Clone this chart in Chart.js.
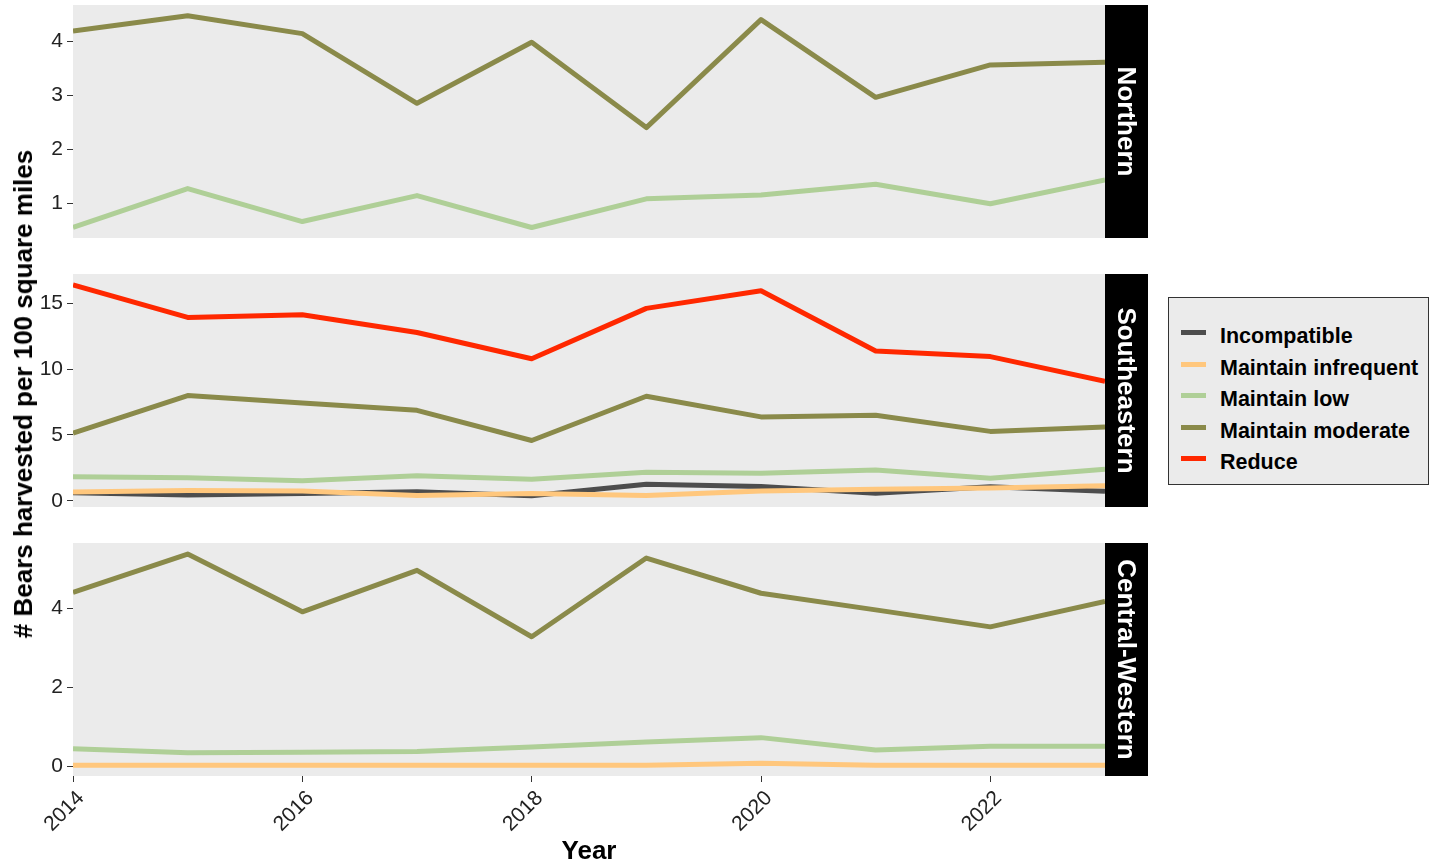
<!DOCTYPE html>
<html>
<head>
<meta charset="utf-8">
<title>Bear harvest by management objective</title>
<script src="https://cdn.jsdelivr.net/npm/chart.js@4.4.1/dist/chart.umd.min.js"></script>
<style>
  html, body { margin: 0; padding: 0; background: #fff; width: 1437px; height: 867px; overflow: hidden;
    font-family: "Liberation Sans", Arial, sans-serif; }
  .panel { position: absolute; left: 0; }
  #ytitle { position: absolute; left: 23px; top: 394px; transform: translate(-50%, -50%) rotate(-90deg);
    font-weight: bold; font-size: 26px; white-space: nowrap; color: #000; line-height: 30px; }
  #legend { position: absolute; left: 1168px; top: 297px; width: 261px; height: 188px; background: #EBEBEB;
    border: 1px solid #333; box-sizing: border-box; }
  .key { position: absolute; left: 12px; width: 25px; height: 5px; }
  .lab { position: absolute; left: 51px; height: 30px; line-height: 30px; font-weight: bold; font-size: 21.5px;
    color: #000; white-space: nowrap; }
</style>
</head>
<body>
<canvas id="c0" class="panel" width="1150" height="250" style="top:0px"></canvas>
<canvas id="c1" class="panel" width="1150" height="260" style="top:262px"></canvas>
<canvas id="c2" class="panel" width="1150" height="337" style="top:530px"></canvas>
<div id="ytitle"># Bears harvested per 100 square miles</div>
<div id="legend"></div>
<script>
// ---- data ----
const years = [2014, 2015, 2016, 2017, 2018, 2019, 2020, 2021, 2022, 2023];
const yearTicks = [2014, 2016, 2018, 2020, 2022];

const seriesNames = ['Incompatible', 'Maintain infrequent', 'Maintain low', 'Maintain moderate', 'Reduce'];
const seriesColors = ['#4D4D4D', '#FFC77D', '#AFCF97', '#8A8A4A', '#FF2800'];

const regionNames = ['Northern', 'Southeastern', 'Central-Western'];

// Northern
const northernLow      = [0.55, 1.27, 0.66, 1.14, 0.55, 1.08, 1.15, 1.35, 0.99, 1.43];
const northernModerate = [4.19, 4.47, 4.14, 2.85, 3.98, 2.40, 4.40, 2.96, 3.56, 3.61];
const northernTicks = [1, 2, 3, 4];

// Southeastern
const southeasternIncompatible = [0.62, 0.45, 0.55, 0.68, 0.38, 1.25, 1.08, 0.57, 1.07, 0.72];
const southeasternInfrequent   = [0.66, 0.79, 0.75, 0.40, 0.56, 0.40, 0.75, 0.87, 0.98, 1.14];
const southeasternLow          = [1.83, 1.76, 1.53, 1.91, 1.63, 2.17, 2.09, 2.34, 1.71, 2.40];
const southeasternModerate     = [5.14, 7.99, 7.43, 6.87, 4.58, 7.94, 6.37, 6.49, 5.27, 5.60];
const southeasternReduce       = [16.39, 13.92, 14.12, 12.78, 10.79, 14.61, 15.95, 11.37, 10.95, 9.08];
const southeasternTicks = [0, 5, 10, 15];

// Central-Western
const centralWesternInfrequent = [0.03, 0.03, 0.03, 0.03, 0.03, 0.03, 0.08, 0.03, 0.03, 0.03];
const centralWesternLow        = [0.45, 0.35, 0.36, 0.38, 0.49, 0.62, 0.73, 0.42, 0.51, 0.51];
const centralWesternModerate   = [4.40, 5.37, 3.91, 4.96, 3.28, 5.27, 4.38, 3.96, 3.53, 4.17];
const centralWesternTicks = [0, 2, 4];

// ---- panels ----
const panels = [
  { canvas: 'c0', label: regionNames[0], ticks: northernTicks, min: 0.355, max: 4.67, pad: { top: 5, bottom: 12 },
    series: { 'Maintain low': northernLow, 'Maintain moderate': northernModerate } },
  { canvas: 'c1', label: regionNames[1], ticks: southeasternTicks, min: -0.47, max: 17.22, pad: { top: 12, bottom: 15 },
    series: { 'Incompatible': southeasternIncompatible, 'Maintain infrequent': southeasternInfrequent,
              'Maintain low': southeasternLow, 'Maintain moderate': southeasternModerate, 'Reduce': southeasternReduce } },
  { canvas: 'c2', label: regionNames[2], ticks: centralWesternTicks, min: -0.24, max: 5.65, pad: { top: 13, bottom: 0 },
    series: { 'Maintain infrequent': centralWesternInfrequent, 'Maintain low': centralWesternLow,
              'Maintain moderate': centralWesternModerate }, showX: true }
];

const STRIP_W = 43;
const FONT = '"Liberation Sans", Arial, sans-serif';

// grey panel background and the black facet strip on the right
const facetPlugin = {
  id: 'facet',
  beforeDraw(chart, args, opts) {
    const { ctx, chartArea: a } = chart;
    ctx.save();
    ctx.fillStyle = '#EBEBEB';
    ctx.fillRect(a.left, a.top, a.right - a.left, a.bottom - a.top);
    ctx.fillStyle = '#000';
    ctx.fillRect(a.right, a.top, STRIP_W, a.bottom - a.top);
    ctx.translate(a.right + STRIP_W / 2, (a.top + a.bottom) / 2);
    ctx.rotate(Math.PI / 2);
    ctx.fillStyle = '#fff';
    ctx.font = 'bold 26px ' + FONT;
    ctx.textAlign = 'center';
    ctx.textBaseline = 'middle';
    ctx.fillText(opts.label, 0, 1);
    ctx.restore();
  }
};

panels.forEach(p => {
  const datasets = [];
  seriesNames.forEach((name, i) => {
    const vals = p.series[name];
    if (!vals) return;
    datasets.push({
      label: name,
      data: years.map((yr, k) => ({ x: yr, y: vals[k] })),
      borderColor: seriesColors[i],
      backgroundColor: seriesColors[i],
      borderWidth: 5,
      pointRadius: 0,
      tension: 0,
      borderJoinStyle: 'round',
      borderCapStyle: 'butt',
      fill: false,
      clip: 0,
      order: seriesNames.length - i
    });
  });

  const xAxis = {
    type: 'linear',
    min: 2014,
    max: 2023,
    display: !!p.showX,
    afterBuildTicks: s => { s.ticks = yearTicks.map(v => ({ value: v })); },
    grid: { drawOnChartArea: false, drawTicks: true, tickLength: 6, color: '#333', lineWidth: 1 },
    border: { display: false },
    ticks: {
      minRotation: 45, maxRotation: 45, padding: 4, labelOffset: 8, color: '#222',
      font: { family: FONT, size: 21 },
      callback: v => String(v)
    },
    title: {
      display: true, text: 'Year', color: '#000',
      font: { family: FONT, size: 26, weight: 'bold' },
      padding: { top: 0, bottom: 0 }
    }
  };
  if (p.showX) xAxis.afterFit = s => { s.height = 91; };

  new Chart(document.getElementById(p.canvas), {
    type: 'line',
    data: { datasets },
    plugins: [facetPlugin],
    options: {
      responsive: false,
      animation: false,
      events: [],
      layout: { padding: { left: 0, right: 1150 - 1105, top: p.pad.top, bottom: p.pad.bottom } },
      plugins: {
        legend: { display: false },
        tooltip: { enabled: false },
        facet: { label: p.label }
      },
      scales: {
        x: xAxis,
        y: {
          min: p.min,
          max: p.max,
          afterBuildTicks: s => { s.ticks = p.ticks.map(v => ({ value: v })); },
          afterFit: s => { s.width = 73; s.paddingTop = 0; s.paddingBottom = 0; },
          grid: { drawOnChartArea: false, drawTicks: true, tickLength: 6, color: '#333', lineWidth: 1 },
          border: { display: false },
          ticks: { color: '#222', padding: 4, font: { family: FONT, size: 21 } }
        }
      }
    }
  });
});

// ---- legend ----
const legend = document.getElementById('legend');
const rowCentres = [35, 67, 98, 130, 161];
seriesNames.forEach((name, i) => {
  const key = document.createElement('div');
  key.className = 'key';
  key.style.background = seriesColors[i];
  key.style.top = (rowCentres[i] - 3) + 'px';
  legend.appendChild(key);
  const lab = document.createElement('div');
  lab.className = 'lab';
  lab.textContent = name;
  lab.style.top = (rowCentres[i] - 15 + 3) + 'px';
  legend.appendChild(lab);
});
</script>
</body>
</html>
